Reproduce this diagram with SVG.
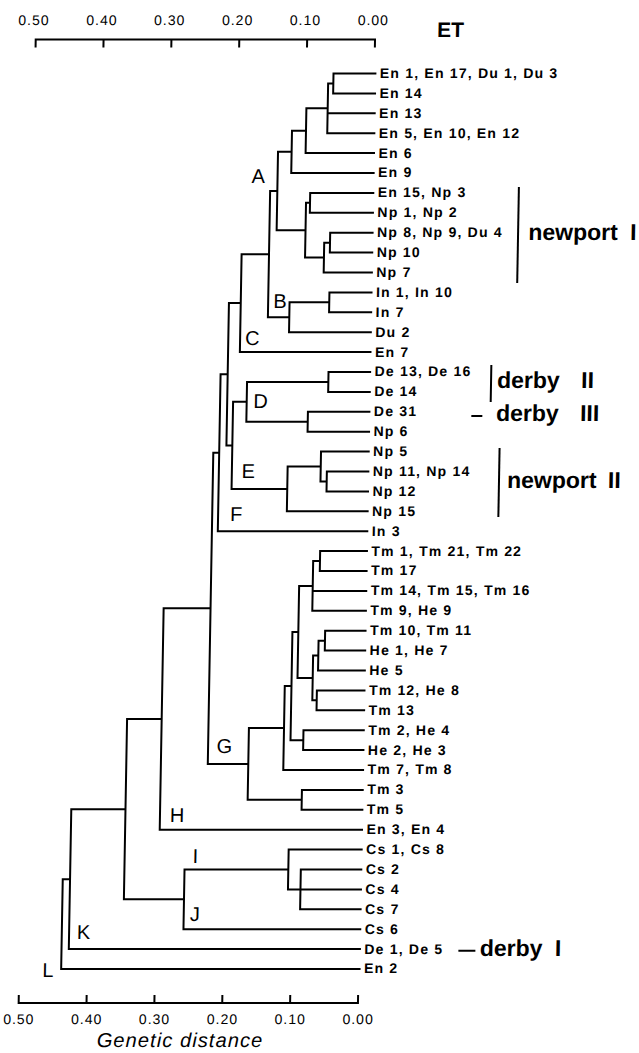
<svg xmlns="http://www.w3.org/2000/svg" width="639" height="1053" viewBox="0 0 639 1053">
<style>
.ln{fill:none;stroke:#000;stroke-width:2;stroke-linecap:square;stroke-linejoin:miter}
.lf{font-family:"Liberation Sans",Arial,sans-serif;font-weight:bold;font-size:14px;letter-spacing:1.2px;fill:#000}
.cl{font-family:"Liberation Sans",Arial,sans-serif;font-size:20px;fill:#000}
.ax{font-family:"Liberation Sans",Arial,sans-serif;font-size:14px;letter-spacing:1px;fill:#000;text-anchor:middle}
.grp{font-family:"Liberation Sans",Arial,sans-serif;font-weight:bold;font-size:23px;fill:#000}
</style>
<rect width="639" height="1053" fill="#fff"/>
<g transform="matrix(1 0 -0.0177 1 0.708 0)">
<g id="top-axis">
<path class="ln" d="M35.7,39.5 H375 M35.7,39.5 V46.5 M103.56,39.5 V46.5 M171.42,39.5 V46.5 M239.28,39.5 V46.5 M307.14,39.5 V46.5 M375,39.5 V46.5"/>
<text class="ax" x="33.7" y="25">0.50</text>
<text class="ax" x="101.6" y="25">0.40</text>
<text class="ax" x="169.4" y="25">0.30</text>
<text class="ax" x="237.3" y="25">0.20</text>
<text class="ax" x="305.1" y="25">0.10</text>
<text class="ax" x="373" y="25">0.00</text>
<text x="437" y="36.7" style="font-family:'Liberation Sans',Arial,sans-serif;font-weight:bold;font-size:21px">ET</text>
</g>
<g id="bottom-axis">
<path class="ln" d="M35.7,1003 H375 M35.7,1003 V996 M103.56,1003 V996 M171.42,1003 V996 M239.28,1003 V996 M307.14,1003 V996 M375,1003 V996"/>
<text class="ax" x="36.2" y="1024">0.50</text>
<text class="ax" x="104" y="1024">0.40</text>
<text class="ax" x="171.9" y="1024">0.30</text>
<text class="ax" x="239.8" y="1024">0.20</text>
<text class="ax" x="307.6" y="1024">0.10</text>
<text class="ax" x="375.5" y="1024">0.00</text>
<text x="197.8" y="1047" text-anchor="middle" style="font-family:'Liberation Sans',Arial,sans-serif;font-style:italic;font-size:20px;letter-spacing:1.1px">Genetic distance</text>
</g>
<g id="connectors">
<path class="ln" d="
M376,73.5 H334.1 V93.4 H376
M334.1,83.45 H328.9 V133.2 H376 M328.9,113.3 H376
M328.9,108.3 H307.6 V153.1 H376
M307.6,130.7 H293.6 V173 H376
M376,192.9 H312.9 V212.8 H376
M376,232.7 H333.6 V252.6 H376
M333.6,242.65 H327.8 V272.5 H376
M312.9,202.85 H308.9 V257.6 H327.8
M293.6,151.85 H280 V230.2 H308.9
M376,292.4 H333.9 V312.3 H376
M333.9,302.35 H294.2 V332.2 H376
M280,191 H272.8 V317.3 H294.2
M272.8,254.15 H245.4 V352.1 H376
M376,372 H334.4 V391.9 H376
M376,411.8 H314.5 V431.7 H376
M334.4,381.95 H253.1 V421.75 H314.5
M376,471.5 H334.5 V491.4 H376
M376,451.6 H328.3 V481.45 H334.5
M328.3,466.5 H295.2 V511.3 H376
M253.1,401.85 H239.5 V488.9 H295.2
M245.4,303.1 H233.6 V445.4 H239.5
M233.6,374.25 H226.5 V531.2 H376
M376,551.1 H329.2 V571 H376
M329.2,561.05 H322.4 V610.8 H376 M322.4,590.9 H376
M376,630.7 H335.6 V650.6 H376
M335.6,640.65 H329.2 V670.5 H376
M376,690.4 H328.4 V710.3 H376
M329.2,655.6 H324 V700.35 H328.4
M322.4,585.9 H308.8 V678 H324
M376,730.2 H315.7 V750.1 H376
M308.8,631.95 H302.9 V740.15 H315.7
M302.9,686.05 H296.2 V770 H376
M376,789.9 H315.2 V809.8 H376
M296.2,728 H261.1 V799.85 H315.2
M226.5,452.7 H220.6 V763.9 H261.1
M220.6,608.3 H173.7 V829.7 H376
M376,869.5 H315.5 V909.3 H376
M376,849.6 H303 V889.4 H376
M303,869.5 H199.2 V929.2 H376
M173.7,719 H139.1 V899.35 H199.2
M139.1,809.2 H84.9 V949.1 H376
M84.9,879.15 H77.6 V969 H376
"/>
</g>
<g id="clade-labels">
<text class="cl" x="254.1" y="183.3">A</text>
<text class="cl" x="277.9" y="307.7">B</text>
<text class="cl" x="250.3" y="345">C</text>
<text class="cl" x="259.7" y="408.3">D</text>
<text class="cl" x="249.3" y="478.3">E</text>
<text class="cl" x="238.4" y="520.7">F</text>
<text class="cl" x="229.1" y="753.3">G</text>
<text class="cl" x="183.6" y="821.7">H</text>
<text class="cl" x="207.1" y="863.3">I</text>
<text class="cl" x="205.4" y="920.7">J</text>
<text class="cl" x="92.8" y="939.3">K</text>
<text class="cl" x="58.9" y="976.7">L</text>
</g>
<g id="leaves">
<g id="leaf1"><text class="lf" x="380.5" y="78">En 1, En 17, Du 1, Du 3</text></g>
<g id="leaf2"><text class="lf" x="380.5" y="97.9">En 14</text></g>
<g id="leaf3"><text class="lf" x="380.5" y="117.8">En 13</text></g>
<g id="leaf4"><text class="lf" x="380.5" y="137.7">En 5, En 10, En 12</text></g>
<g id="leaf5"><text class="lf" x="380.5" y="157.6">En 6</text></g>
<g id="leaf6"><text class="lf" x="380.5" y="177.5">En 9</text></g>
<g id="leaf7"><text class="lf" x="380.5" y="197.4">En 15, Np 3</text></g>
<g id="leaf8"><text class="lf" x="380.5" y="217.3">Np 1, Np 2</text></g>
<g id="leaf9"><text class="lf" x="380.5" y="237.2">Np 8, Np 9, Du 4</text></g>
<g id="leaf10"><text class="lf" x="380.5" y="257.1">Np 10</text></g>
<g id="leaf11"><text class="lf" x="380.5" y="277">Np 7</text></g>
<g id="leaf12"><text class="lf" x="380.5" y="296.9">In 1, In 10</text></g>
<g id="leaf13"><text class="lf" x="380.5" y="316.8">In 7</text></g>
<g id="leaf14"><text class="lf" x="380.5" y="336.7">Du 2</text></g>
<g id="leaf15"><text class="lf" x="380.5" y="356.6">En 7</text></g>
<g id="leaf16"><text class="lf" x="380.5" y="376.5">De 13, De 16</text></g>
<g id="leaf17"><text class="lf" x="380.5" y="396.4">De 14</text></g>
<g id="leaf18"><text class="lf" x="380.5" y="416.3">De 31</text></g>
<g id="leaf19"><text class="lf" x="380.5" y="436.2">Np 6</text></g>
<g id="leaf20"><text class="lf" x="380.5" y="456.1">Np 5</text></g>
<g id="leaf21"><text class="lf" x="380.5" y="476">Np 11, Np 14</text></g>
<g id="leaf22"><text class="lf" x="380.5" y="495.9">Np 12</text></g>
<g id="leaf23"><text class="lf" x="380.5" y="515.8">Np 15</text></g>
<g id="leaf24"><text class="lf" x="380.5" y="535.7">In 3</text></g>
<g id="leaf25"><text class="lf" x="380.5" y="555.6">Tm 1, Tm 21, Tm 22</text></g>
<g id="leaf26"><text class="lf" x="380.5" y="575.5">Tm 17</text></g>
<g id="leaf27"><text class="lf" x="380.5" y="595.4">Tm 14, Tm 15, Tm 16</text></g>
<g id="leaf28"><text class="lf" x="380.5" y="615.3">Tm 9, He 9</text></g>
<g id="leaf29"><text class="lf" x="380.5" y="635.2">Tm 10, Tm 11</text></g>
<g id="leaf30"><text class="lf" x="380.5" y="655.1">He 1, He 7</text></g>
<g id="leaf31"><text class="lf" x="380.5" y="675">He 5</text></g>
<g id="leaf32"><text class="lf" x="380.5" y="694.9">Tm 12, He 8</text></g>
<g id="leaf33"><text class="lf" x="380.5" y="714.8">Tm 13</text></g>
<g id="leaf34"><text class="lf" x="380.5" y="734.7">Tm 2, He 4</text></g>
<g id="leaf35"><text class="lf" x="380.5" y="754.6">He 2, He 3</text></g>
<g id="leaf36"><text class="lf" x="380.5" y="774.5">Tm 7, Tm 8</text></g>
<g id="leaf37"><text class="lf" x="380.5" y="794.4">Tm 3</text></g>
<g id="leaf38"><text class="lf" x="380.5" y="814.3">Tm 5</text></g>
<g id="leaf39"><text class="lf" x="380.5" y="834.2">En 3, En 4</text></g>
<g id="leaf40"><text class="lf" x="380.5" y="854.1">Cs 1, Cs 8</text></g>
<g id="leaf41"><text class="lf" x="380.5" y="874">Cs 2</text></g>
<g id="leaf42"><text class="lf" x="380.5" y="893.9">Cs 4</text></g>
<g id="leaf43"><text class="lf" x="380.5" y="913.8">Cs 7</text></g>
<g id="leaf44"><text class="lf" x="380.5" y="933.7">Cs 6</text></g>
<g id="leaf45"><text class="lf" x="380.5" y="953.6">De 1, De 5</text></g>
<g id="leaf46"><text class="lf" x="380.5" y="973.5">En 2</text></g>
</g>
<g id="groups">
<g id="newport-I"><path class="ln" d="M521.5,188 V282"/><text class="grp" x="531.8" y="240">newport <tspan dx="6">I</tspan></text></g>
<g id="derby-II"><path class="ln" d="M497.1,366 V401"/><text class="grp" x="503.2" y="388.3">derby <tspan dx="15">II</tspan></text></g>
<g id="derby-III"><path class="ln" d="M479,416 H488"/><text class="grp" x="502.7" y="420.7">derby <tspan dx="15">III</tspan></text></g>
<g id="newport-II"><path class="ln" d="M506.8,449 V516"/><text class="grp" x="514.9" y="488">newport <tspan dx="5">II</tspan></text></g>
<g id="derby-I"><path class="ln" d="M475.5,950.7 H490.5"/><text class="grp" x="496" y="956">derby <tspan dx="6">I</tspan></text></g>
</g>
</g>
</svg>
